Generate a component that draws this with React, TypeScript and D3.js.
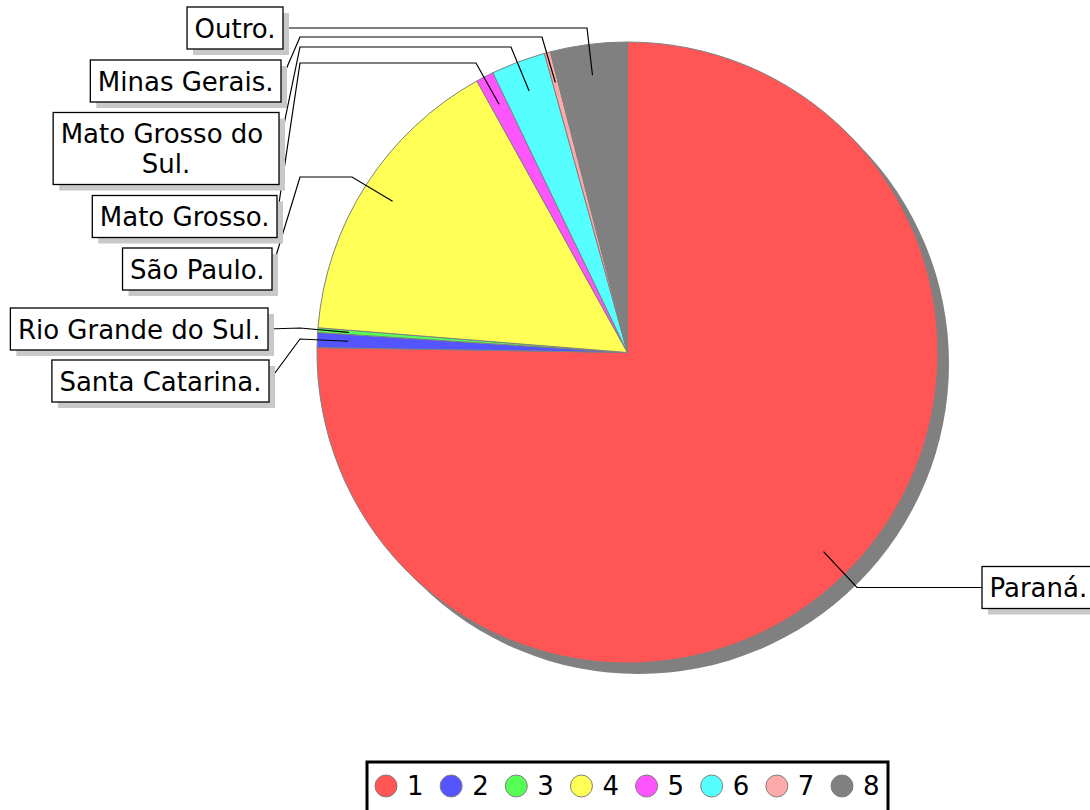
import React from "react";
import * as d3 from "d3";

const regions = [
  "Paraná.",
  "Santa Catarina.",
  "Rio Grande do Sul.",
  "São Paulo.",
  "Mato Grosso.",
  "Mato Grosso do Sul.",
  "Minas Gerais.",
  "Outro.",
];
const shares = [75.25, 0.78, 0.24, 15.67, 0.92, 2.83, 0.31, 4.0];
const legendLabels = ["1", "2", "3", "4", "5", "6", "7", "8"];
const colors = ["#ff5555", "#5555ff", "#55ff55", "#ffff55", "#ff55ff", "#55ffff", "#ffaaaa", "#808080"];

// label box layout (box anchor edge x, box center y, knee point, optional x of second bend)
const labelLayout = [
  { side: "left", x: 982, cy: 587.5, knee: [857, 587.5], via: null, lines: ["Paraná."] },
  { side: "right", x: 269, cy: 381, knee: [300, 339], via: null, lines: ["Santa Catarina."] },
  { side: "right", x: 268, cy: 329, knee: [300, 328], via: null, lines: ["Rio Grande do Sul."] },
  { side: "right", x: 272, cy: 269, knee: [352, 177], via: 300, lines: ["São Paulo."] },
  { side: "right", x: 277, cy: 216.5, knee: [476, 63], via: 300, lines: ["Mato Grosso."] },
  { side: "right", x: 279, cy: 148.5, knee: [511, 47], via: 300, lines: ["Mato Grosso do ", "Sul."] },
  { side: "right", x: 281, cy: 81, knee: [542, 37], via: 300, lines: ["Minas Gerais."] },
  { side: "right", x: 283, cy: 28, knee: [587, 28], via: 300, lines: ["Outro."] },
];

const W = 1090;
const H = 810;
const CX = 627.5;
const CY = 352.5;
const R = 310.5;
const FONT = "'DejaVu Sans', sans-serif";
const FS = 26;

let ctx: CanvasRenderingContext2D | null = null;
function measure(t: string): number {
  if (!ctx) ctx = document.createElement("canvas").getContext("2d");
  if (!ctx) return t.length * FS * 0.6;
  ctx.font = `${FS}px 'DejaVu Sans'`;
  return ctx.measureText(t).width;
}

export default function App() {
  const pie = d3
    .pie<number>()
    .sort(null)
    .value((d) => d)
    .startAngle(0)
    .endAngle(2 * Math.PI);
  const arcs = pie(shares);
  const arc = d3.arc<d3.PieArcDatum<number>>().innerRadius(0).outerRadius(R);
  const labelArc = d3.arc<d3.PieArcDatum<number>>().innerRadius(R * 0.9).outerRadius(R * 0.9);

  const legendX = d3.scaleLinear().domain([0, legendLabels.length - 1]).range([386, 842]);
  const line = d3.line();

  return (
    <div style={{ position: "absolute", left: 0, top: 0 }}>
      <svg width={W} height={H} style={{ display: "block", fontFamily: FONT }}>
        <rect width={W} height={H} fill="#ffffff" />
        {/* shadow */}
        <circle cx={CX + 11} cy={CY + 11} r={R} fill="#808080" />
        <g transform={`translate(${CX},${CY})`}>
          {arcs.map((a, i) => (
            <path key={i} d={arc(a) || ""} fill={colors[i]} stroke="#808080" strokeWidth={1} />
          ))}
        </g>
        {/* leader lines */}
        {arcs.map((a, i) => {
          const [ex, ey] = labelArc.centroid(a);
          const L = labelLayout[i];
          const pts: [number, number][] = [[CX + ex, CY + ey], [L.knee[0], L.knee[1]]];
          if (L.via !== null) pts.push([L.via, L.knee[1]]);
          pts.push([L.x, L.cy]);
          return <path key={i} d={line(pts) || ""} fill="none" stroke="#000" strokeWidth={1.2} />;
        })}
        {/* label boxes */}
        {labelLayout.map((L, i) => {
          const w = Math.max(...L.lines.map((t) => measure(t))) + 15;
          const h = 42 + (L.lines.length - 1) * 30;
          const x0 = L.side === "left" ? L.x : L.x - w;
          const y0 = L.cy - h / 2;
          const tx = x0 + w / 2;
          return (
            <g key={i}>
              <rect x={x0 + 6} y={y0 + 6} width={w} height={h} fill="#c8c8c8" />
              <rect x={x0} y={y0} width={w} height={h} fill="#ffffff" stroke="#000" strokeWidth={1.3} />
              {L.lines.map((t, j) => (
                <text
                  key={j}
                  x={tx}
                  y={L.cy - ((L.lines.length - 1) * 30) / 2 + j * 30 + 9.5}
                  textAnchor="middle"
                  fontSize={FS}
                  fill="#000"
                  style={{ whiteSpace: "pre" }}
                >
                  {t}
                </text>
              ))}
            </g>
          );
        })}
        {/* legend */}
        <rect x={367} y={762} width={521} height={52} fill="#ffffff" stroke="#000" strokeWidth={3} />
        {legendLabels.map((t, i) => (
          <g key={i}>
            <circle cx={legendX(i)} cy={786} r={11} fill={colors[i]} stroke="#808080" strokeWidth={1} />
            <text x={legendX(i) + 21} y={795} fontSize={FS} fill="#000">
              {t}
            </text>
          </g>
        ))}
      </svg>
    </div>
  );
}
